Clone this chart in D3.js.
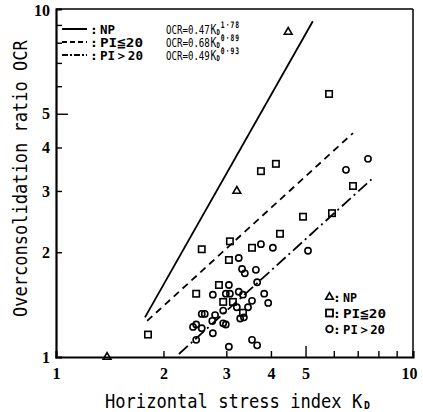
<!DOCTYPE html>
<html><head><meta charset="utf-8">
<script src="https://cdn.jsdelivr.net/npm/d3@7"></script>
<style>body{margin:0;background:#fff}svg{display:block}</style>
</head><body>
<svg id="c" width="423" height="412"></svg>
<script>
// ---- data (Kd, OCR) ----
const npKd  = [4.47, 3.21, 1.39];
const npOCR = [8.59, 3.00, 1.00];
const loKd  = [1.81, 2.56, 3.07, 3.75, 4.13, 5.82, 4.92, 4.24, 5.93, 6.79, 3.54, 3.05, 2.86, 2.47, 2.94, 3.13, 3.34];
const loOCR = [1.16, 2.04, 2.15, 3.42, 3.59, 5.70, 2.53, 2.26, 2.59, 3.10, 2.06, 1.90, 1.61, 1.52, 1.44, 1.44, 1.34];
const hiKd  = [3.25, 3.32, 3.38, 3.63, 3.75, 4.05, 3.66, 3.05, 2.75, 2.99, 3.07, 3.25, 3.34, 3.83, 3.93, 3.54, 2.94, 3.21, 3.45, 3.28, 3.36, 2.56, 2.61, 2.79, 2.74, 2.94, 2.99, 2.47, 2.42, 2.56, 2.75, 2.47, 3.05, 3.54, 3.66, 5.08, 6.49, 7.48];
const hiOCR = [1.925,1.79, 1.74, 1.78, 2.11, 2.06, 1.64, 1.61, 1.51, 1.52, 1.52, 1.54, 1.51, 1.52, 1.43, 1.45, 1.36, 1.39, 1.39, 1.29, 1.30, 1.33, 1.33, 1.32, 1.27, 1.25, 1.24, 1.24, 1.22, 1.21, 1.17, 1.12, 1.07, 1.12, 1.08, 2.02, 3.45, 3.71];
// regression lines as drawn: [Kd, OCR] endpoints
const lineNP   = [[1.775, 1.30], [5.24, 9.22]];
const lineLo   = [[1.80, 1.27], [6.79, 4.40]];
const lineHi   = [[2.21, 1.02], [7.73, 3.27]];
const xTickLabels = [1, 2, 3, 4, 5, 10];
const yTickLabels = [1, 2, 3, 4, 5, 10];
const xMinor = [2, 3, 4, 5, 6, 7, 8, 9];
const yMinor = [2, 3, 4, 5, 6, 7, 8, 9];
const legendRows = [
  {name: "NP",     coef: "0.47", exp: "1.78"},
  {name: "PI≦20", coef: "0.68", exp: "0.89"},
  {name: "PI＞20", coef: "0.49", exp: "0.93"}
];

// ---- layout ----
const svg = d3.select("#c");
const L = 56, R = 413, T = 9, B = 357;
const x = d3.scaleLog().domain([1, 10]).range([L, R]);
const y = d3.scaleLog().domain([1, 10]).range([B, T]);
const gothic = "'DejaVu Sans Mono', monospace";
const serif = "'Liberation Serif', 'DejaVu Serif', serif";

// frame
svg.append("line").attr("x1", L).attr("x2", R).attr("y1", T).attr("y2", T).attr("stroke", "#000").attr("stroke-width", 1.5);
svg.append("line").attr("x1", R).attr("x2", R).attr("y1", T).attr("y2", B).attr("stroke", "#000").attr("stroke-width", 1.5);

// axes (labels via d3 axis, inward ticks)
const xAxis = svg.append("g").attr("transform", `translate(0,${B})`)
  .call(d3.axisBottom(x).tickValues(xMinor).tickSize(-6).tickFormat(""));
xAxis.selectAll(".tick line").attr("stroke-width", 1.4).filter(d => d === 5).attr("y2", -11);
xAxis.select(".domain").attr("stroke-width", 2.2);
const xLab = svg.append("g").attr("transform", `translate(0,${B})`)
  .call(d3.axisBottom(x).tickValues(xTickLabels).tickSize(0).tickPadding(0).tickFormat(d3.format("d")));
xLab.select(".domain").remove();
xLab.selectAll("text").attr("y", 22).attr("dy", 0).attr("font-size", 16).attr("font-weight", "bold").attr("font-family", serif).attr("fill", "#000");
xLab.selectAll(".tick").filter(d => d === 10).select("text").attr("dx", -4);

const yAxis = svg.append("g").attr("transform", `translate(${L},0)`)
  .call(d3.axisLeft(y).tickValues(yMinor).tickSize(-6).tickFormat(""));
yAxis.selectAll(".tick line").attr("stroke-width", 1.4).filter(d => d === 5).attr("x2", 12);
yAxis.select(".domain").attr("stroke-width", 2.2);
const yLab = svg.append("g").attr("transform", `translate(${L},0)`)
  .call(d3.axisLeft(y).tickValues(yTickLabels).tickSize(0).tickPadding(6).tickFormat(d3.format("d")));
yLab.select(".domain").remove();
yLab.selectAll("text").attr("font-size", 16).attr("font-weight", "bold").attr("font-family", serif).attr("fill", "#000");
yLab.selectAll(".tick").filter(d => d === 10).select("text").attr("dy", "0.4em");

// regression lines
const ln = d3.line().x(d => x(d[0])).y(d => y(d[1]));
svg.append("path").attr("d", ln(lineNP)).attr("stroke", "#000").attr("stroke-width", 1.8).attr("fill", "none");
svg.append("path").attr("d", ln(lineLo)).attr("stroke", "#000").attr("stroke-width", 1.8).attr("fill", "none").attr("stroke-dasharray", "7,5");
svg.append("path").attr("d", ln(lineHi)).attr("stroke", "#000").attr("stroke-width", 1.8).attr("fill", "none").attr("stroke-dasharray", "12,4,2,4");

// markers
const mk = svg.append("g").attr("fill", "#fff").attr("stroke", "#000").attr("stroke-width", 1.6);
mk.selectAll("circle.hi").data(d3.zip(hiKd, hiOCR)).join("circle").attr("class", "hi")
  .attr("cx", d => x(d[0])).attr("cy", d => y(d[1])).attr("r", 3.1).attr("fill", "none");
mk.selectAll("rect.lo").data(d3.zip(loKd, loOCR)).join("rect").attr("class", "lo")
  .attr("x", d => x(d[0]) - 3.2).attr("y", d => y(d[1]) - 3.2).attr("width", 6.4).attr("height", 6.4).attr("fill", "none");
const tri = d3.symbol().type(d3.symbolTriangle).size(26);
mk.selectAll("path.np").data(d3.zip(npKd, npOCR)).join("path").attr("class", "np")
  .attr("d", tri).attr("transform", d => `translate(${x(d[0])},${y(d[1])})`).attr("fill", "none");

// top-left legend
const styles = [null, "5,3", "6,2,2,2"];
const rowY = [29, 42, 55];
legendRows.forEach((r, i) => {
  const g = svg.append("g");
  g.append("line").attr("x1", 62).attr("x2", 87).attr("y1", rowY[i]).attr("y2", rowY[i])
    .attr("stroke", "#000").attr("stroke-width", 2).attr("stroke-dasharray", styles[i]);
  g.append("text").attr("x", 90).attr("y", rowY[i] + 5).attr("font-family", gothic).attr("font-size", 13).attr("font-weight", "bold").text(":");
  g.append("text").attr("x", 100).attr("y", rowY[i] + 5).attr("font-family", gothic).attr("font-size", 13).attr("font-weight", "bold")
    .attr("textLength", i === 0 ? 15 : 43).attr("lengthAdjust", "spacingAndGlyphs").text(r.name);
  const f = g.append("text").attr("transform", `translate(166,${rowY[i] + 5}) scale(0.7,1)`)
    .attr("font-family", gothic).attr("font-size", 13).attr("fill", "#000");
  f.append("tspan").text("OCR=" + r.coef);
  f.append("tspan").attr("dx", 1).attr("font-size", 14).text("K");
  f.append("tspan").attr("font-size", 8).attr("font-weight", "bold").attr("dy", 1).text("D");
  f.append("tspan").attr("dx", 1.5).attr("font-size", 9).attr("font-weight", "bold").attr("dy", -7).attr("letter-spacing", 1.5)
    .text(r.exp.replace(".", "·"));
});

// bottom-right legend
const lg2 = [{t: "NP", w: 14}, {t: "PI≦20", w: 43}, {t: "PI＞20", w: 42}];
const rowY2 = [297, 313, 329];
const sx = 329.5;
svg.append("path").attr("d", tri).attr("transform", `translate(${sx},${rowY2[0]})`).attr("fill", "none").attr("stroke", "#000").attr("stroke-width", 1.6);
svg.append("rect").attr("x", sx - 3.5).attr("y", rowY2[1] - 3.5).attr("width", 7).attr("height", 7).attr("fill", "none").attr("stroke", "#000").attr("stroke-width", 1.8);
svg.append("circle").attr("cx", sx).attr("cy", rowY2[2]).attr("r", 3.3).attr("fill", "none").attr("stroke", "#000").attr("stroke-width", 1.8);
lg2.forEach((r, i) => {
  svg.append("text").attr("x", 333).attr("y", rowY2[i] + 5).attr("font-family", gothic).attr("font-size", 13).attr("font-weight", "bold").text(":");
  svg.append("text").attr("x", 343).attr("y", rowY2[i] + 5).attr("font-family", gothic).attr("font-size", 13).attr("font-weight", "bold")
    .attr("textLength", r.w).attr("lengthAdjust", "spacingAndGlyphs").text(r.t);
});

// axis titles
const xt = svg.append("text").attr("transform", "translate(105,408) scale(0.9,1)").attr("font-family", gothic).attr("font-size", 19);
xt.append("tspan").text("Horizontal stress index K");
xt.append("tspan").attr("dx", 2).attr("font-size", 11).attr("font-weight", "bold").attr("dy", 1).text("D");
svg.append("text").attr("transform", "translate(27,317) rotate(-90) scale(0.897,1)").attr("font-family", gothic).attr("font-size", 19)
  .text("Overconsolidation ratio OCR");
</script>
</body></html>
